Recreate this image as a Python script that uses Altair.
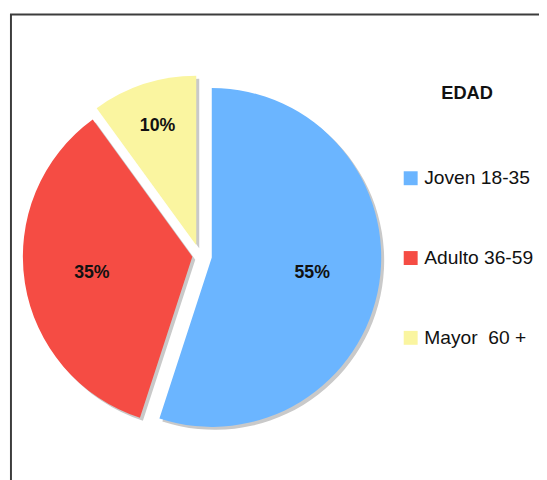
import altair as alt
import pandas as pd

categories = ["Joven 18-35", "Adulto 36-59", "Mayor \u00a060 +"]
values = [55, 35, 10]
labels = ["55%", "35%", "10%"]
colors = ["#6BB5FF", "#F54C44", "#FAF5A0"]

R = 172              # pie radius (px)
CX, CY = 191.5, 244.7  # pie centre inside the view (px)
SHADOW = 3

df = pd.DataFrame({"cat": categories, "value": values, "label": labels,
                   "order": list(range(len(categories)))})

base = alt.Chart(df).transform_window(
    cum="sum(value)", sort=[alt.SortField("order")]
).transform_joinaggregate(
    total="sum(value)"
).transform_calculate(
    t0="(datum.cum - datum.value) / datum.total * 2 * PI",
    t1="datum.cum / datum.total * 2 * PI",
    ex="datum.order == 0 ? 12.5 : (datum.order == 1 ? 7.5 : 11)",
).transform_calculate(
    mid="(datum.t0 + datum.t1) / 2"
).transform_calculate(
    cx=f"{CX} + datum.ex * sin(datum.mid)",
    cy=f"{CY} - datum.ex * cos(datum.mid)",
    lr=f"datum.value < 15 ? {0.74 * R} : {0.6 * R}",
).transform_calculate(
    sx=f"datum.cx + {SHADOW}",
    sy=f"datum.cy + {SHADOW}",
    tx="datum.cx + datum.lr * sin(datum.mid)",
    ty="datum.cy - datum.lr * cos(datum.mid)",
)

shadow = base.mark_arc(radius=R, color="#c9c9c9").encode(
    theta=alt.Theta("t0:Q", scale=None),
    theta2="t1:Q",
    x=alt.X("sx:Q", scale=None),
    y=alt.Y("sy:Q", scale=None),
)

arcs = base.mark_arc(radius=R).encode(
    theta=alt.Theta("t0:Q", scale=None),
    theta2="t1:Q",
    x=alt.X("cx:Q", scale=None),
    y=alt.Y("cy:Q", scale=None),
    color=alt.Color(
        "cat:N",
        scale=alt.Scale(domain=categories, range=colors),
        sort=categories,
        legend=alt.Legend(
            title="EDAD",
            orient="none",
            legendX=396,
            legendY=71,
            titleFont="Liberation Sans",
            titleFontSize=18.5,
            titleFontWeight="bold",
            titleColor="#111111",
            titleAnchor="middle",
            titlePadding=67,
            labelFont="Liberation Sans",
            labelFontSize=19.5,
            labelColor="#111111",
            symbolType="square",
            symbolSize=200,
            symbolStrokeWidth=0,
            symbolOpacity=1,
            labelOffset=4,
            rowPadding=60,
            labelLimit=300,
        ),
    ),
)

text = base.mark_text(
    font="Liberation Sans", fontSize=18, fontWeight="bold", color="#111111"
).encode(
    x=alt.X("tx:Q", scale=None),
    y=alt.Y("ty:Q", scale=None),
    text="label:N",
)

frame = alt.Chart(alt.Data(values=[{}])).mark_rect(
    fill=None, stroke="#3c3c3c", strokeWidth=2
).encode(
    x=alt.value(0), x2=alt.value(2000), y=alt.value(0), y2=alt.value(2000)
)

chart = alt.layer(frame, shadow, arcs, text).properties(
    width=536,
    height=469,
    autosize=alt.AutoSizeParams(type="none"),
    padding={"left": 3, "top": 3, "right": 0, "bottom": 0},
    background="white",
).configure_view(strokeWidth=0)

chart.save("out.html", embed_options={"renderer": "svg", "actions": False})
